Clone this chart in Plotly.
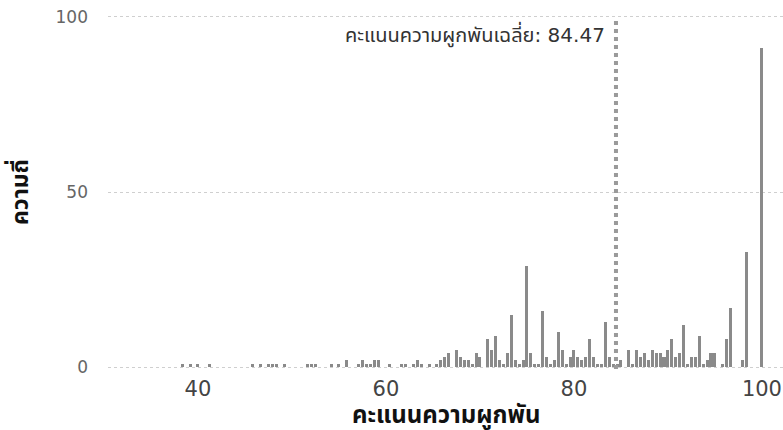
import plotly.graph_objects as go

# Engagement scores (distinct values) and their frequencies
scores = [38.33, 39.17, 40.0, 41.25, 45.83, 46.67, 47.5, 47.92, 48.33, 49.17,
          51.67, 52.08, 52.5, 54.17, 55.0, 55.83, 57.08, 57.5, 57.92, 58.33,
          58.75, 59.17, 60.42, 61.67, 62.08, 62.92, 63.33, 63.75, 64.58, 65.42,
          65.83, 66.25, 66.67, 67.5, 67.92, 68.33, 68.75, 69.17, 69.58, 70.0,
          70.83, 71.25, 71.67, 72.08, 72.5, 72.92, 73.33, 73.75, 74.17, 74.58,
          75.0, 75.42, 75.83, 76.25, 76.67, 77.08, 77.5, 77.92, 78.33, 78.75,
          79.17, 79.58, 80.0, 80.42, 80.83, 81.25, 81.67, 82.08, 82.5, 82.92,
          83.33, 83.75, 84.17, 84.58, 85.0, 85.83, 86.25, 86.67, 87.08, 87.5,
          87.92, 88.33, 88.75, 89.17, 89.58, 90.0, 90.42, 90.83, 91.25, 91.67,
          92.08, 92.5, 92.92, 93.33, 93.75, 94.17, 94.58, 95.0, 95.83, 96.25,
          96.67, 97.92, 98.33, 100.0]
counts = [1, 1, 1, 1, 1, 1, 1, 1, 1, 1,
          1, 1, 1, 1, 1, 2, 1, 2, 1, 1,
          2, 2, 1, 1, 1, 1, 2, 1, 1, 1,
          2, 3, 4, 5, 3, 2, 2, 1, 4, 3,
          8, 5, 9, 2, 1, 4, 15, 2, 1, 2,
          29, 4, 1, 1, 16, 3, 1, 2, 10, 5,
          1, 3, 5, 3, 2, 3, 8, 3, 1, 1,
          13, 3, 1, 1, 2, 5, 1, 5, 3, 4,
          2, 5, 4, 4, 3, 5, 8, 3, 4, 12,
          1, 3, 3, 9, 1, 2, 4, 4, 1, 8,
          17, 2, 33, 91]

mean_score = 84.47
mean_label = "คะแนนความผูกพันเฉลี่ย: 84.47"
x_title = "คะแนนความผูกพัน"
y_title = "ความถี่"
x_ticks = [40, 60, 80, 100]
y_ticks = [0, 50, 100]

FONT = "DejaVu Sans, Verdana, Noto Sans Thai, sans-serif"

fig = go.Figure()
fig.add_trace(go.Bar(
    x=scores, y=counts, width=0.32,
    marker=dict(color="#8a8a8a", line=dict(width=0)),
    showlegend=False, hoverinfo="skip",
))

fig.add_shape(type="line", xref="x", yref="paper",
              x0=mean_score, x1=mean_score, y0=0, y1=0.985,
              line=dict(color="#9a9a9a", width=4, dash="dot"))
fig.add_annotation(x=mean_score, y=95, xref="x", yref="y",
                   text=mean_label, showarrow=False,
                   xanchor="right", yanchor="middle", xshift=-9,
                   font=dict(family=FONT, size=20, color="#333333"))

# axis titles
fig.add_annotation(x=0.5, y=-0.13, xref="paper", yref="paper",
                   text=x_title, showarrow=False, xanchor="center", yanchor="middle",
                   font=dict(family=FONT, size=24, color="#111111", weight="bold"))
fig.add_annotation(x=-0.1333, y=0.5, xref="paper", yref="paper",
                   text=y_title, showarrow=False, textangle=-90,
                   xanchor="center", yanchor="middle",
                   font=dict(family=FONT, size=23, color="#111111", weight="bold"))

fig.update_layout(
    width=783, height=430,
    margin=dict(l=108, r=0, t=15, b=61),
    paper_bgcolor="white", plot_bgcolor="white",
    font=dict(family=FONT, color="#333333"),
    bargap=0, hovermode=False,
)
fig.update_xaxes(
    range=[30.43, 102.24], tickvals=x_ticks, showgrid=False, zeroline=False,
    showline=False, ticks="", automargin=False, ticklabeloverflow="allow",
    tickfont=dict(family=FONT, size=21, color="#444444"),
    ticklabelstandoff=5,
)
fig.update_yaxes(
    range=[-0.5, 100.5], tickvals=y_ticks, showgrid=True, gridcolor="#cfcfcf",
    griddash="dot", gridwidth=1, zeroline=False, showline=False, ticks="",
    automargin=False, ticklabeloverflow="allow",
    tickfont=dict(family=FONT, size=17, color="#666666"),
    ticklabelstandoff=19,
)

fig.write_html(
    "out.html",
    config={"displayModeBar": False},
    post_script="document.body.style.margin='0';document.body.style.overflow='hidden';",
)
